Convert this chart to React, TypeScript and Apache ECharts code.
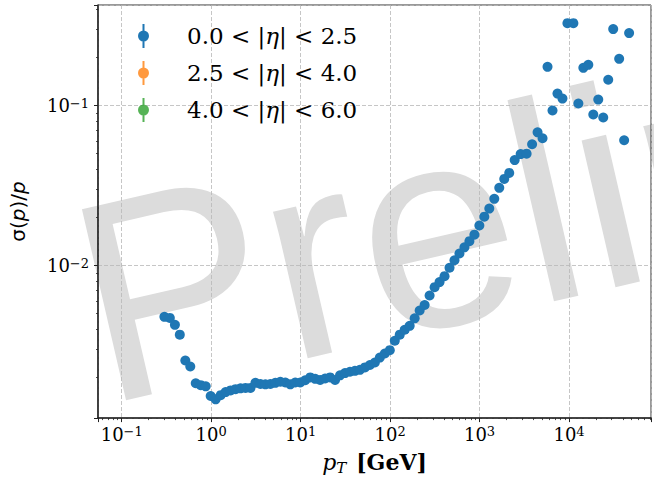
import React, { useEffect, useRef } from "react";
import * as echarts from "echarts";

// transverse momentum of each bin [GeV]
const pT = [
  0.300, 0.345, 0.393, 0.446, 0.514, 0.584, 0.672, 0.764, 0.869, 0.987,
  1.122, 1.276, 1.450, 1.648, 1.873, 2.129, 2.420, 2.750, 3.126, 3.553,
  4.038, 4.589, 5.218, 5.931, 6.741, 7.662, 8.708, 9.897, 11.25, 12.79,
  14.54, 16.52, 18.78, 21.35, 24.26, 27.57, 31.34, 35.62, 40.49, 46.03,
  52.31, 59.46, 67.58, 76.81, 87.30, 99.24, 112.8, 128.2, 145.7, 165.6,
  188.3, 214.0, 243.2, 276.4, 314.3, 357.2, 406.0, 461.5, 524.5, 596.2,
  677.6, 770.1, 875.4, 995, 1131, 1285, 1461, 1661, 1888, 2146,
  2470, 2880, 3358, 3867, 4451, 5059, 5751, 6539, 7430, 8446,
  9598, 11190, 12726, 14461, 16437, 18681, 21232, 24131, 27434, 31182,
  36363, 41330, 46970,
];

// sigma(p)/p for 0.0 < |eta| < 2.5
const resCentral = [
  0.00478, 0.00471, 0.00426, 0.00370, 0.00255, 0.00234, 0.00184, 0.00179, 0.00176, 0.00153,
  0.00146, 0.00155, 0.00162, 0.00166, 0.00169, 0.00171, 0.00172, 0.00172, 0.00185, 0.00182,
  0.00181, 0.00182, 0.00185, 0.00188, 0.00186, 0.00181, 0.00186, 0.00186, 0.00192, 0.00200,
  0.00196, 0.00193, 0.00197, 0.00200, 0.00193, 0.00206, 0.00213, 0.00217, 0.00220, 0.00223,
  0.00231, 0.00239, 0.00248, 0.00266, 0.00282, 0.00296, 0.00339, 0.00370, 0.00397, 0.00420,
  0.00468, 0.00524, 0.00567, 0.00650, 0.00733, 0.00788, 0.00858, 0.00969, 0.0108, 0.0119,
  0.0130, 0.0142, 0.0156, 0.0178, 0.0202, 0.0227, 0.0261, 0.0306, 0.0348, 0.0379,
  0.0456, 0.0497, 0.0500, 0.0573, 0.0680, 0.0624, 0.1745, 0.0931, 0.1187, 0.1105,
  0.327, 0.327, 0.1029, 0.1720, 0.1796, 0.0879, 0.1089, 0.0842, 0.1449, 0.3002,
  0.1956, 0.0607, 0.2836,
];
// the other two eta ranges have no points in the visible range
const resForward: number[] = [];
const resVeryForward: number[] = [];

const seriesNames = ["0.0 < |η| < 2.5", "2.5 < |η| < 4.0", "4.0 < |η| < 6.0"];
const seriesColors = ["#1f77b4", "#ff7f0e", "#2ca02c"];

// axis ranges
const xMin = 0.0543;
const xMax = 82500;
const yMin = 0.001114;
const yMax = 0.4246;

// minor ticks: decades x multipliers
const xDecades = [0.01, 0.1, 1, 10, 100, 1000, 10000];
const yDecades = [0.001, 0.01, 0.1];
const minorMult = [2, 3, 4, 5, 6, 7, 8, 9];

const xMinor: number[] = [];
xDecades.forEach((d) => minorMult.forEach((m) => { const v = +(d * m).toPrecision(3); if (v > xMin && v < xMax) xMinor.push(v); }));
const yMinor: number[] = [];
yDecades.forEach((d) => minorMult.forEach((m) => { const v = +(d * m).toPrecision(3); if (v > yMin && v < yMax) yMinor.push(v); }));

const serif = "DejaVu Serif";
const sans = "DejaVu Sans";

function powLabel(v: number): string {
  const e = Math.log10(v);
  const r = Math.round(e);
  if (Math.abs(e - r) > 1e-6) return "";
  const s = r < 0 ? "\u2212" + -r : String(r);
  return `{b|10}{s|${s}}`;
}

const labelRich = {
  b: { fontFamily: serif, fontSize: 18, color: "#000", lineHeight: 18, verticalAlign: "bottom" },
  s: { fontFamily: serif, fontSize: 13, color: "#000", lineHeight: 13, verticalAlign: "top", padding: [0, 0, 8, 0] },
};

const legendIcon =
  "path://M4.5,0H6.5V24H4.5Z M0,12A5.5,5.5,0,1,1,11,12A5.5,5.5,0,1,1,0,12Z";

export default function App() {
  const ref = useRef<HTMLDivElement>(null);
  useEffect(() => {
    if (!ref.current) return;
    const chart = echarts.init(ref.current, undefined, { renderer: "svg" });
    const mk = (ys: number[]) => ys.map((y, i) => [pT[i], y]);
    chart.setOption({
      animation: false,
      backgroundColor: "#ffffff",
      grid: {
        left: 98, top: 5, right: 0, bottom: 59,
        show: true, borderColor: "#333", borderWidth: 1, backgroundColor: "transparent",
      },
      legend: {
        orient: "vertical",
        left: 133,
        top: 19,
        itemGap: 13,
        itemWidth: 11,
        itemHeight: 24,
        icon: legendIcon,
        selectedMode: false,
        data: seriesNames,
        formatter: (n: string) => n.replace("η", "{i|η}"),
        textStyle: {
          fontFamily: serif, fontSize: 23, color: "#000", padding: [0, 0, 0, 33],
          rich: { i: { fontFamily: serif, fontStyle: "italic", fontSize: 23, color: "#000" } },
        },
      },
      xAxis: [
        {
          type: "log", logBase: 10, min: xMin, max: xMax, z: 1,
          name: "{i|p}{sub|T}{b|[GeV]}",
          nameLocation: "middle", nameGap: 30,
          nameTextStyle: {
            rich: {
              i: { fontFamily: serif, fontStyle: "italic", fontSize: 22, color: "#000", lineHeight: 24, verticalAlign: "top" },
              sub: { fontFamily: serif, fontStyle: "italic", fontSize: 15, color: "#000", lineHeight: 15, verticalAlign: "bottom", padding: [9, 0, 0, 0] },
              b: { fontFamily: serif, fontWeight: "bold", fontSize: 22, color: "#000", lineHeight: 24, verticalAlign: "top", padding: [0, 0, 0, 10] },
            },
          },
          axisLine: { show: true, onZero: false, lineStyle: { color: "#222", width: 1.5 } },
          axisTick: { show: true, length: 4, lineStyle: { color: "#222", width: 1 } },
          axisLabel: { formatter: powLabel, margin: 7, rich: labelRich, showMinLabel: true, showMaxLabel: true, hideOverlap: false },
          splitLine: { show: true, lineStyle: { color: "#b8b8b8", type: [4, 2], width: 0.8 } },
        },
        {
          type: "log", logBase: 10, min: xMin, max: xMax, position: "bottom", z: 1,
          axisLine: { show: false },
          axisTick: { show: true, length: 2, customValues: xMinor, lineStyle: { color: "#222", width: 0.8 } },
          axisLabel: { show: false },
          splitLine: { show: false },
        },
      ],
      yAxis: [
        {
          type: "log", logBase: 10, min: yMin, max: yMax, z: 1,
          name: "{n|σ(}{i|p}{n|)/}{i|p}",
          nameLocation: "middle", nameRotate: 90, nameGap: 70,
          nameTextStyle: {
            rich: {
              n: { fontFamily: sans, fontSize: 20, color: "#000" },
              i: { fontFamily: sans, fontStyle: "italic", fontSize: 20, color: "#000" },
            },
          },
          axisLine: { show: true, onZero: false, lineStyle: { color: "#222", width: 1.5 } },
          axisTick: { show: true, length: 4, lineStyle: { color: "#222", width: 1 } },
          axisLabel: { formatter: powLabel, margin: 9, rich: labelRich, hideOverlap: false },
          splitLine: { show: true, lineStyle: { color: "#b8b8b8", type: [4, 2], width: 0.8 } },
        },
        {
          type: "log", logBase: 10, min: yMin, max: yMax, position: "left", z: 1,
          axisLine: { show: false },
          axisTick: { show: true, length: 2, customValues: yMinor, lineStyle: { color: "#222", width: 0.8 } },
          axisLabel: { show: false },
          splitLine: { show: false },
        },
      ],
      graphic: {
        elements: [
          {
            type: "text",
            x: 81,
            y: 309,
            rotation: (13 * Math.PI) / 180,
            z: -10,
            silent: true,
            style: {
              text: "Preliminary",
              font: `285px "Liberation Sans"`,
              fill: "#dcdcdc",
              align: "left",
              verticalAlign: "middle",
            },
          },
        ],
      },
      series: [
        { name: seriesNames[0], type: "scatter", data: mk(resCentral), symbolSize: 10, color: seriesColors[0], itemStyle: { color: seriesColors[0], opacity: 1 }, z: 3 },
        { name: seriesNames[1], type: "scatter", data: mk(resForward), symbolSize: 10, color: seriesColors[1], itemStyle: { color: seriesColors[1] } },
        { name: seriesNames[2], type: "scatter", data: mk(resVeryForward), symbolSize: 10, color: seriesColors[2], itemStyle: { color: seriesColors[2] } },
      ],
    });
    return () => chart.dispose();
  }, []);
  return (
    <div
      ref={ref}
      style={{ position: "fixed", left: 0, top: 0, width: 654, height: 480, background: "#fff" }}
    />
  );
}
